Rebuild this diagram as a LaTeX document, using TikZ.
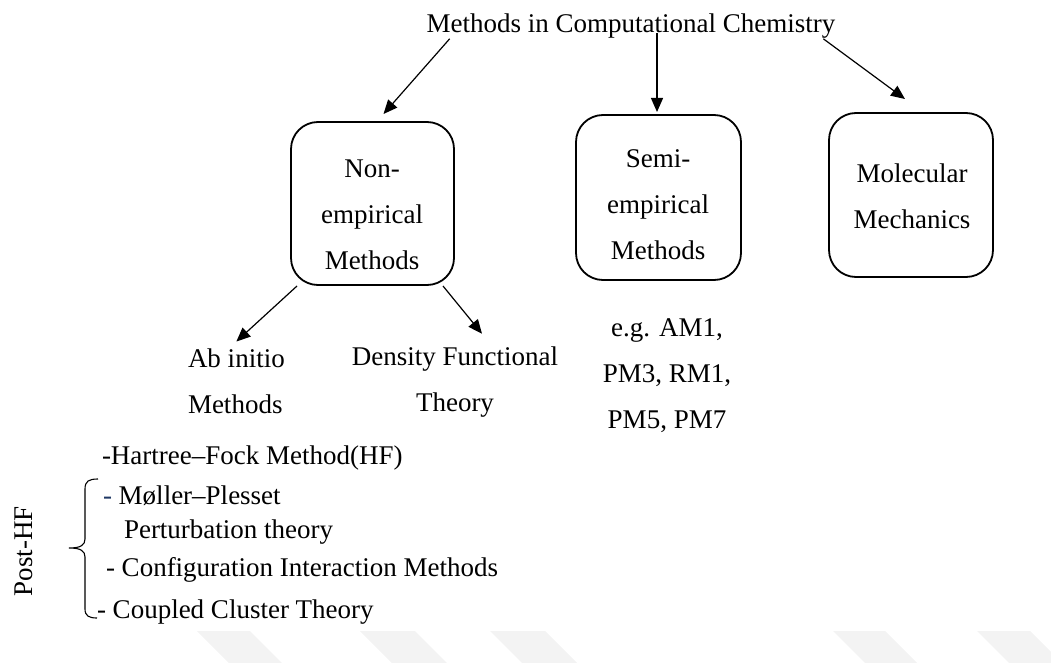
\documentclass[tikz,border=0pt]{standalone}
\usepackage{fontspec}
\setmainfont{Liberation Serif}
\usetikzlibrary{arrows.meta,calc}
\definecolor{navy}{RGB}{31,56,100}
\definecolor{wm}{RGB}{243,243,243}
\begin{document}
\begin{tikzpicture}[x=1pt,y=-1pt,
  every node/.style={inner sep=0pt, outer sep=0pt, font=\fontsize{27}{46}\selectfont},
  box/.style={draw, line width=1.8pt, rounded corners=27pt},
  arr/.style={line width=1.2pt, -{Triangle[length=14pt,width=12pt]}},
  lbl/.style={align=center},
  item/.style={anchor=base west},
  wmark/.style={fill=wm, draw=none}
  ]
\useasboundingbox (0,0) rectangle (1051,663);
% faint watermark strips
\fill[wmark] (197,631) -- (250,631) -- (282,663) -- (229,663) -- cycle;
\fill[wmark] (360,631) -- (415,631) -- (447,663) -- (392,663) -- cycle;
\fill[wmark] (490,631) -- (545,631) -- (577,663) -- (522,663) -- cycle;
\fill[wmark] (833,631) -- (885,631) -- (917,663) -- (865,663) -- cycle;
\fill[wmark] (977,631) -- (1030,631) -- (1051,652) -- (1051,663) -- (1009,663) -- cycle;

% title
\node[anchor=base] (title) at (631,33) {Methods in Computational Chemistry};

% boxes
\node[box, minimum width=163pt, minimum height=163pt] (ne) at (372.5,203.5) {};
\node[box, minimum width=165pt, minimum height=165pt] (se) at (658.5,197.5) {};
\node[box, minimum width=164pt, minimum height=164pt] (mm) at (911,195) {};
\node[lbl] (neT) at (372,215) {Non-\\empirical\\Methods};
\node[lbl] (seT) at (658,205) {Semi-\\empirical\\Methods};
\node[lbl] (mmT) at (912,196) {Molecular\\Mechanics};

% sub labels
\node[align=left, anchor=west] (ab) at (188,381) {Ab initio\\Methods};
\node[lbl] (dft) at (455,382) {Density Functional\\Theory};
\node[lbl] (eg) at (667,376) {e.g. AM1,\\PM3, RM1,\\PM5, PM7};

% list
\node[item] (hf) at (102,464) {-Hartree–Fock Method(HF)};
\node[item] (mp) at (103,504) {{\color{navy}-} Møller–Plesset};
\node[item] (pt) at (124,538) {Perturbation theory};
\node[item] (ci) at (106,576) {- Configuration Interaction Methods};
\node[item] (cc) at (97,618) {- Coupled Cluster Theory};
\node[rotate=90] (post) at (24,551) {Post-HF};

% brace
\draw[line width=1.1pt] (98,479) .. controls (89,479) and (85,481) .. (85,489)
  -- (85,539) .. controls (85,545) and (81,548) .. (69,548)
  .. controls (81,548) and (85,551) .. (85,557)
  -- (85,609) .. controls (85,616) and (89,618) .. (97,618);

% arrows
\draw[arr] ($(title.south west)+(23,0)$) -- ($(ne.north)+(11,-8)$);
\draw[arr] ($(title.base)+(26,0)$) -- ($(se.north)+(-1.5,-3)$);
\draw[arr] ($(title.south east)+(-12,0)$) -- ($(mm.north)+(-6,-14)$);
\draw[arr] ($(ne.south west)+(6,1)$) -- ($(ab.north)+(0,-7)$);
\draw[arr] ($(ne.south east)+(-11,1)$) -- ($(dft.north)+(27,-13)$);
\end{tikzpicture}
\end{document}
